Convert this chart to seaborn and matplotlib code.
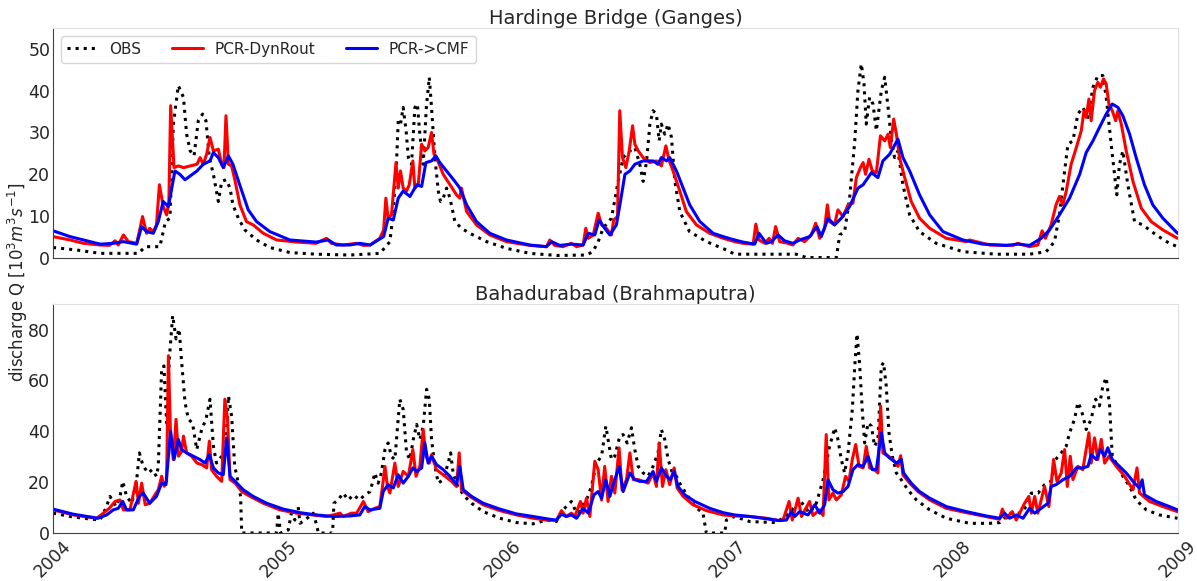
import numpy as np
import pandas as pd
import matplotlib
matplotlib.use("Agg")
import matplotlib.pyplot as plt
import matplotlib.dates as mdates
import seaborn as sns

# (decimal year, discharge [10^3 m3/s])

ganges_obs = [
    (2004.00, 2.5), (2004.105, 1.9), (2004.21, 1.1), (2004.38, 1.1), (2004.41, 2.7), (2004.475, 2.7),
    (2004.50, 8.7), (2004.52, 9.5), (2004.535, 32), (2004.557, 41.2), (2004.58, 38.4), (2004.594, 29.6),
    (2004.61, 25.6), (2004.627, 24.4), (2004.646, 32.8), (2004.665, 34.4), (2004.68, 32.8), (2004.695, 24),
    (2004.713, 20), (2004.735, 13.5), (2004.75, 18.3), (2004.77, 18.7), (2004.787, 16.7), (2004.80, 12.7),
    (2004.824, 9.5), (2004.853, 6.7), (2004.905, 4.3), (2004.964, 2.5), (2005.053, 1.3), (2005.17, 0.9),
    (2005.32, 0.7), (2005.453, 1.1), (2005.476, 2.5), (2005.498, 3.9), (2005.513, 11.1), (2005.527, 22.4),
    (2005.535, 32.8), (2005.545, 32), (2005.557, 36), (2005.57, 30.4), (2005.58, 24), (2005.594, 22.4),
    (2005.609, 36), (2005.62, 36.8), (2005.631, 29.6), (2005.646, 22.4), (2005.66, 36), (2005.673, 43.2),
    (2005.683, 36), (2005.698, 24), (2005.713, 16), (2005.723, 13.5), (2005.735, 14.3), (2005.75, 16.7),
    (2005.765, 14.3), (2005.787, 8.7), (2005.816, 7.1), (2005.853, 5.9), (2005.928, 3.9), (2006.016, 2.3),
    (2006.12, 1.1), (2006.24, 0.6), (2006.372, 0.7), (2006.40, 1.5), (2006.424, 3.9), (2006.446, 7.1),
    (2006.483, 9.5), (2006.513, 18.3), (2006.535, 24), (2006.565, 25.6), (2006.587, 26.4), (2006.609, 22.4),
    (2006.624, 18.3), (2006.639, 23), (2006.654, 32), (2006.668, 35.2), (2006.683, 34.4), (2006.695, 28),
    (2006.705, 32), (2006.72, 29.6), (2006.735, 32), (2006.75, 28.8), (2006.765, 18.3), (2006.787, 11.1),
    (2006.83, 6.3), (2006.906, 3.9), (2006.994, 1.9), (2007.031, 0.9), (2007.157, 0.9), (2007.305, 0.9),
    (2007.35, 0.1), (2007.483, 0.1), (2007.498, 5.5), (2007.52, 6.3), (2007.542, 14.3), (2007.565, 28),
    (2007.579, 40), (2007.594, 46.4), (2007.606, 41.6), (2007.616, 32), (2007.631, 38.4), (2007.646, 36.8),
    (2007.661, 30.4), (2007.683, 40), (2007.698, 43.2), (2007.713, 36), (2007.728, 28), (2007.742, 24),
    (2007.757, 25.6), (2007.779, 17.5), (2007.809, 10.3), (2007.853, 6.3), (2007.927, 3.5), (2008.046, 1.5),
    (2008.194, 0.9), (2008.342, 0.9), (2008.416, 1.5), (2008.453, 3.9), (2008.475, 10.3), (2008.498, 20.8),
    (2008.513, 27.2), (2008.535, 28), (2008.557, 34.4), (2008.579, 36), (2008.602, 33.6), (2008.624, 40.8),
    (2008.646, 43.6), (2008.668, 43.6), (2008.683, 38.4), (2008.705, 27.2), (2008.72, 20), (2008.73, 15.1),
    (2008.742, 22.4), (2008.757, 25.6), (2008.779, 17.5), (2008.809, 8.7), (2008.846, 7.9), (2008.905, 5.5),
    (2008.964, 3.5), (2009.0, 2.7),
]

ganges_dynrout = [
    (2004.0, 5.1), (2004.076, 4.3), (2004.135, 3.5), (2004.209, 3.1), (2004.25, 3.0), (2004.276, 4.1),
    (2004.29, 3.1), (2004.313, 5.5), (2004.335, 3.9), (2004.372, 3.5), (2004.387, 7.1), (2004.398, 9.9),
    (2004.416, 5.9), (2004.43, 7.1), (2004.446, 6.3), (2004.46, 7.9), (2004.473, 17.5), (2004.49, 12.3),
    (2004.505, 10.3), (2004.515, 13.3), (2004.523, 36.4), (2004.538, 21.6), (2004.557, 22), (2004.58, 21.6),
    (2004.61, 22), (2004.64, 22.4), (2004.654, 24), (2004.668, 22.4), (2004.683, 24.8), (2004.698, 28.8),
    (2004.713, 25.6), (2004.735, 26), (2004.75, 22.4), (2004.76, 21.6), (2004.769, 34), (2004.78, 22.4),
    (2004.794, 22), (2004.81, 18.3), (2004.831, 12.7), (2004.86, 8.7), (2004.89, 7.9), (2004.935, 5.9),
    (2004.994, 4.3), (2005.083, 3.8), (2005.17, 3.5), (2005.216, 4.7), (2005.238, 3.5), (2005.29, 3.1),
    (2005.35, 3.5), (2005.38, 3.0), (2005.41, 3.1), (2005.453, 4.7), (2005.47, 6.7), (2005.48, 14.3),
    (2005.49, 9.5), (2005.505, 10.3), (2005.525, 22.8), (2005.535, 16.7), (2005.545, 20.8), (2005.557, 16.7),
    (2005.572, 16), (2005.584, 17.5), (2005.6, 23.2), (2005.609, 16.7), (2005.624, 17.5), (2005.639, 27.2),
    (2005.653, 25.6), (2005.668, 26.4), (2005.683, 30), (2005.694, 24.8), (2005.705, 24), (2005.735, 20),
    (2005.765, 17.5), (2005.794, 15.1), (2005.809, 14.3), (2005.816, 16.7), (2005.839, 11.1), (2005.883, 7.9),
    (2005.942, 5.5), (2006.016, 3.9), (2006.12, 3.0), (2006.194, 2.7), (2006.209, 4.3), (2006.231, 3.0),
    (2006.268, 2.7), (2006.305, 3.5), (2006.328, 2.7), (2006.357, 3.1), (2006.369, 7.1), (2006.38, 4.7),
    (2006.402, 5.5), (2006.424, 10.7), (2006.439, 7.9), (2006.46, 7.1), (2006.483, 5.5), (2006.493, 9.1),
    (2006.51, 9.9), (2006.52, 35.2), (2006.532, 24), (2006.547, 21.6), (2006.562, 25.6), (2006.577, 31.6),
    (2006.587, 27.2), (2006.602, 25.6), (2006.624, 24), (2006.654, 22.8), (2006.683, 23.2), (2006.705, 22),
    (2006.725, 26.8), (2006.74, 23.2), (2006.757, 20.8), (2006.787, 16), (2006.816, 11.1), (2006.861, 7.9),
    (2006.92, 5.9), (2006.98, 4.7), (2007.031, 3.9), (2007.068, 3.5), (2007.113, 3.3), (2007.125, 8.1),
    (2007.139, 4.3), (2007.165, 3.5), (2007.184, 4.7), (2007.199, 3.5), (2007.213, 7.5), (2007.231, 3.9),
    (2007.268, 3.5), (2007.29, 3.1), (2007.313, 4.7), (2007.342, 3.9), (2007.372, 5.5), (2007.391, 8.3),
    (2007.409, 4.7), (2007.431, 7.1), (2007.443, 12.7), (2007.453, 8.7), (2007.475, 7.9), (2007.49, 11.5),
    (2007.513, 9.9), (2007.535, 12.7), (2007.557, 13.1), (2007.572, 19.2), (2007.59, 21.6), (2007.602, 22.8),
    (2007.613, 20), (2007.628, 23.6), (2007.643, 20.8), (2007.661, 20.4), (2007.679, 29.2), (2007.698, 28),
    (2007.713, 29.6), (2007.723, 26.4), (2007.738, 33.2), (2007.75, 29.6), (2007.764, 24), (2007.787, 19.2),
    (2007.816, 13.5), (2007.853, 9.5), (2007.898, 7.1), (2007.972, 4.7), (2008.061, 3.9), (2008.075, 4.3),
    (2008.165, 3.1), (2008.268, 3.0), (2008.29, 3.5), (2008.342, 2.7), (2008.379, 3.1), (2008.398, 6.5),
    (2008.413, 4.7), (2008.438, 7.9), (2008.46, 12.7), (2008.475, 14.7), (2008.49, 12.7), (2008.505, 15.9),
    (2008.527, 22.4), (2008.55, 26.4), (2008.572, 30.4), (2008.584, 35.2), (2008.594, 33.6), (2008.606, 38),
    (2008.616, 32.8), (2008.631, 40), (2008.646, 42), (2008.657, 40.8), (2008.671, 42.8), (2008.683, 41.6),
    (2008.695, 36.8), (2008.71, 35.2), (2008.725, 32.8), (2008.735, 35.2), (2008.75, 32), (2008.772, 25.6),
    (2008.802, 18.3), (2008.839, 11.9), (2008.883, 8.7), (2008.935, 6.7), (2009.0, 4.7),
]

ganges_cmf = [
    (2004.0, 6.5), (2004.076, 5.1), (2004.135, 4.3), (2004.21, 3.3), (2004.268, 3.5), (2004.313, 3.9),
    (2004.372, 3.3), (2004.394, 7.5), (2004.416, 6.3), (2004.446, 5.9), (2004.468, 8.7), (2004.49, 13.5),
    (2004.513, 12.3), (2004.542, 20.8), (2004.564, 20), (2004.587, 18.7), (2004.61, 19.6), (2004.64, 20.8),
    (2004.668, 22.4), (2004.698, 23.2), (2004.713, 25.2), (2004.735, 24), (2004.757, 21.6), (2004.78, 24.4),
    (2004.80, 22.4), (2004.83, 17.5), (2004.868, 11.5), (2004.905, 8.7), (2004.964, 6.3), (2005.053, 4.3),
    (2005.17, 3.8), (2005.224, 4.3), (2005.26, 3.1), (2005.32, 3.1), (2005.364, 3.5), (2005.41, 3.1),
    (2005.47, 5.1), (2005.49, 9.5), (2005.513, 9.1), (2005.535, 14.3), (2005.557, 16), (2005.587, 14.7),
    (2005.617, 17.5), (2005.639, 17.1), (2005.658, 22.8), (2005.683, 23.2), (2005.702, 24.4), (2005.72, 22.8),
    (2005.75, 20.8), (2005.787, 18.3), (2005.809, 16.7), (2005.839, 12.7), (2005.883, 8.7), (2005.942, 5.9),
    (2006.016, 4.3), (2006.12, 3.1), (2006.194, 2.7), (2006.217, 3.9), (2006.253, 3.0), (2006.305, 3.3),
    (2006.357, 3.1), (2006.38, 5.9), (2006.409, 5.5), (2006.428, 9.1), (2006.453, 7.1), (2006.476, 5.5),
    (2006.505, 7.9), (2006.523, 13.5), (2006.543, 20), (2006.565, 20.8), (2006.587, 22.4), (2006.624, 23.2),
    (2006.668, 23.2), (2006.69, 22.4), (2006.705, 24), (2006.728, 23.2), (2006.742, 24), (2006.772, 20.8),
    (2006.802, 16.7), (2006.831, 12.7), (2006.876, 8.7), (2006.935, 5.9), (2006.98, 5.1), (2007.031, 4.3),
    (2007.068, 3.8), (2007.12, 3.3), (2007.139, 5.9), (2007.172, 3.5), (2007.194, 3.9), (2007.224, 5.5),
    (2007.253, 4.1), (2007.29, 3.5), (2007.32, 4.3), (2007.364, 5.1), (2007.397, 7.5), (2007.416, 5.1),
    (2007.446, 9.5), (2007.475, 7.9), (2007.505, 9.5), (2007.542, 12.3), (2007.579, 16.7), (2007.602, 17.5),
    (2007.639, 20.4), (2007.668, 19.2), (2007.69, 23.2), (2007.72, 24.8), (2007.757, 28.4), (2007.779, 24),
    (2007.809, 20.8), (2007.853, 15.1), (2007.898, 10.3), (2007.957, 6.3), (2008.046, 4.3), (2008.135, 3.3),
    (2008.238, 3.0), (2008.29, 3.3), (2008.342, 3.0), (2008.394, 4.7), (2008.431, 6.7), (2008.475, 10.3),
    (2008.52, 14.3), (2008.565, 20), (2008.594, 25.2), (2008.624, 28), (2008.653, 31.2), (2008.683, 34.4),
    (2008.71, 36.8), (2008.735, 36), (2008.757, 34), (2008.787, 29.6), (2008.816, 24), (2008.853, 17.5),
    (2008.89, 12.7), (2008.935, 9.5), (2009.0, 5.9),
]

brahma_obs = [
    (2004.0, 7.8), (2004.076, 6.5), (2004.135, 5.8), (2004.209, 5.1), (2004.238, 10.4), (2004.253, 14.4),
    (2004.28, 10.4), (2004.298, 14.4), (2004.31, 20.3), (2004.327, 14.4), (2004.35, 11.7), (2004.369, 18.3),
    (2004.384, 31.5), (2004.401, 26.2), (2004.424, 23.6), (2004.44, 24.9), (2004.46, 22.3), (2004.468, 26.2),
    (2004.483, 64.4), (2004.493, 65.7), (2004.505, 43.3), (2004.517, 68.4), (2004.532, 85.5), (2004.547, 76.3),
    (2004.561, 80.2), (2004.572, 67), (2004.587, 51.3), (2004.602, 44.7), (2004.62, 43.3), (2004.639, 32.8),
    (2004.661, 40.7), (2004.68, 44.7), (2004.698, 52.6), (2004.713, 34.1), (2004.727, 27.5), (2004.75, 30.2),
    (2004.769, 35.4), (2004.78, 53.9), (2004.794, 46), (2004.808, 26.2), (2004.824, 19.6), (2004.834, 14.4),
    (2004.839, 0), (2004.994, 0), (2005.001, 7.8), (2005.012, 0), (2005.046, 1.2), (2005.06, 7.8),
    (2005.075, 5.1), (2005.09, 10.4), (2005.098, 3.8), (2005.12, 5.1), (2005.157, 7.8), (2005.17, 3.8),
    (2005.18, 0), (2005.243, 0), (2005.249, 11.7), (2005.268, 13), (2005.29, 15.7), (2005.313, 13),
    (2005.335, 15), (2005.364, 13), (2005.386, 15), (2005.41, 16.3), (2005.431, 23.6), (2005.446, 19.6),
    (2005.46, 23.6), (2005.476, 32.8), (2005.49, 35.4), (2005.505, 30), (2005.52, 28.9), (2005.542, 52.6),
    (2005.557, 48.6), (2005.572, 31.5), (2005.587, 28.9), (2005.602, 36.8), (2005.617, 42.7), (2005.631, 36.8),
    (2005.646, 42), (2005.661, 56.5), (2005.673, 52.6), (2005.683, 36.8), (2005.698, 26.2), (2005.713, 19.6),
    (2005.735, 21), (2005.757, 27.5), (2005.768, 31.5), (2005.779, 23.6), (2005.8, 18.3), (2005.83, 14.4),
    (2005.861, 11.7), (2005.913, 8.4), (2005.987, 5.8), (2006.061, 4.1), (2006.135, 3.6), (2006.194, 5.1),
    (2006.238, 4.5), (2006.268, 9.1), (2006.305, 12.4), (2006.328, 7.8), (2006.35, 10.4), (2006.372, 13),
    (2006.394, 18.3), (2006.416, 27.5), (2006.439, 30.2), (2006.458, 42), (2006.468, 36.8), (2006.483, 28.9),
    (2006.498, 30.2), (2006.52, 38.1), (2006.535, 38.7), (2006.553, 35.4), (2006.572, 41.4), (2006.587, 32.8),
    (2006.602, 26.2), (2006.624, 23.6), (2006.646, 22.3), (2006.668, 26.2), (2006.69, 31.5), (2006.705, 40.7),
    (2006.72, 36.8), (2006.735, 28.9), (2006.754, 23.6), (2006.772, 22.3), (2006.794, 18.3), (2006.824, 14.4),
    (2006.854, 10.4), (2006.89, 7.8), (2006.905, 0), (2006.987, 0), (2006.994, 5.1), (2007.031, 6.5),
    (2007.098, 4.5), (2007.216, 4.1), (2007.276, 7.8), (2007.32, 13), (2007.342, 10.4), (2007.364, 7.8),
    (2007.394, 11.7), (2007.424, 20.9), (2007.453, 34.1), (2007.476, 41.4), (2007.49, 36.8), (2007.505, 28.9),
    (2007.52, 23.6), (2007.535, 31.5), (2007.554, 48.6), (2007.565, 65.7), (2007.575, 78.3), (2007.587, 65.7),
    (2007.598, 48.6), (2007.609, 35.4), (2007.624, 43.3), (2007.639, 42), (2007.653, 34.1), (2007.668, 36.8),
    (2007.683, 65.7), (2007.693, 67), (2007.705, 57.8), (2007.717, 39.4), (2007.732, 30.2), (2007.75, 23.6),
    (2007.772, 20.9), (2007.801, 17), (2007.839, 13), (2007.898, 9.1), (2007.972, 5.8), (2008.076, 3.8),
    (2008.165, 3.8), (2008.209, 4.1), (2008.253, 7.8), (2008.298, 7.8), (2008.328, 10.4), (2008.35, 15.7),
    (2008.38, 15.7), (2008.409, 19), (2008.438, 20.3), (2008.458, 28.9), (2008.483, 31.5), (2008.505, 34.1),
    (2008.52, 39.4), (2008.542, 44.7), (2008.557, 51.3), (2008.572, 48.6), (2008.594, 40.7), (2008.616, 44.7),
    (2008.636, 52.6), (2008.653, 50), (2008.668, 57.8), (2008.683, 61.1), (2008.698, 50), (2008.71, 30.2),
    (2008.735, 26.2), (2008.757, 22.3), (2008.787, 18.3), (2008.816, 13), (2008.861, 9.1), (2008.92, 7.1),
    (2009.0, 5.8),
]

brahma_dynrout = [
    (2004.0, 9.1), (2004.09, 7.1), (2004.194, 5.8), (2004.224, 7.8), (2004.25, 9.7), (2004.276, 12.4),
    (2004.298, 13), (2004.313, 9.1), (2004.342, 9.1), (2004.369, 20.3), (2004.38, 11.7), (2004.394, 19.6),
    (2004.41, 11.1), (2004.43, 11.7), (2004.453, 15), (2004.468, 17), (2004.483, 22.3), (2004.494, 18.4),
    (2004.505, 20.3), (2004.513, 69.7), (2004.523, 36.8), (2004.535, 28.9), (2004.547, 44.7), (2004.558, 30.2),
    (2004.572, 32.1), (2004.58, 38.1), (2004.594, 31.5), (2004.616, 30.2), (2004.64, 27.5), (2004.661, 26.9),
    (2004.683, 25.6), (2004.695, 36.1), (2004.705, 24.9), (2004.727, 22.3), (2004.75, 20.3), (2004.764, 52.6),
    (2004.776, 44.7), (2004.787, 21), (2004.81, 19.6), (2004.839, 16.3), (2004.876, 14.4), (2004.935, 11.7),
    (2005.009, 9.1), (2005.083, 7.8), (2005.157, 7.1), (2005.216, 6.5), (2005.246, 7.1), (2005.276, 7.8),
    (2005.29, 6.5), (2005.327, 7.8), (2005.35, 7.8), (2005.38, 12.4), (2005.401, 8.4), (2005.431, 9.7),
    (2005.453, 10.4), (2005.465, 18.3), (2005.476, 26.2), (2005.487, 18.3), (2005.498, 15.7), (2005.52, 27.5),
    (2005.535, 18.3), (2005.557, 24.2), (2005.58, 22.3), (2005.6, 32.8), (2005.614, 22.3), (2005.631, 26.2),
    (2005.646, 40.7), (2005.658, 30.2), (2005.673, 27.5), (2005.683, 30.8), (2005.705, 24.9), (2005.735, 22.9),
    (2005.772, 20.3), (2005.794, 18.3), (2005.806, 31.5), (2005.816, 17), (2005.853, 14.4), (2005.913, 11.1),
    (2005.987, 8.8), (2006.061, 7.1), (2006.135, 5.8), (2006.194, 5.1), (2006.238, 4.9), (2006.261, 8.8),
    (2006.28, 6.5), (2006.305, 7.8), (2006.32, 6.5), (2006.345, 12.4), (2006.357, 7.8), (2006.372, 13.7),
    (2006.387, 6.5), (2006.409, 28.2), (2006.424, 24.9), (2006.439, 13), (2006.453, 26.2), (2006.468, 12.4),
    (2006.483, 22.3), (2006.498, 15.7), (2006.517, 33.5), (2006.53, 17), (2006.55, 21), (2006.565, 31.5),
    (2006.58, 21), (2006.602, 21), (2006.624, 20.3), (2006.646, 19.6), (2006.668, 23.6), (2006.683, 18.3),
    (2006.695, 35.4), (2006.71, 18.3), (2006.725, 24.9), (2006.742, 19), (2006.762, 25.6), (2006.775, 17.7),
    (2006.802, 14.4), (2006.846, 11.1), (2006.905, 8.8), (2006.98, 7.1), (2007.031, 6.7), (2007.098, 6.5),
    (2007.172, 5.8), (2007.224, 4.9), (2007.246, 5.1), (2007.273, 12.4), (2007.287, 5.1), (2007.313, 13.7),
    (2007.328, 6.5), (2007.364, 12.4), (2007.379, 6.9), (2007.409, 9.1), (2007.424, 6.9), (2007.438, 38.7),
    (2007.45, 13), (2007.468, 15.7), (2007.483, 13), (2007.505, 15), (2007.524, 22.3), (2007.539, 20.3),
    (2007.554, 28.9), (2007.569, 34.8), (2007.584, 26.2), (2007.602, 25.6), (2007.616, 34.1), (2007.631, 25.6),
    (2007.653, 24.9), (2007.668, 23.6), (2007.68, 49.9), (2007.69, 31.5), (2007.713, 30.2), (2007.735, 28.9),
    (2007.757, 26.2), (2007.769, 30.4), (2007.779, 22.9), (2007.809, 19.6), (2007.846, 16.3), (2007.898, 13),
    (2007.972, 9.7), (2008.061, 8), (2008.135, 6.7), (2008.209, 5.4), (2008.221, 9.4), (2008.239, 5.8),
    (2008.265, 8.4), (2008.283, 5.1), (2008.32, 11.7), (2008.339, 14.4), (2008.35, 7.8), (2008.365, 14.4),
    (2008.379, 7.8), (2008.409, 18.3), (2008.428, 10.4), (2008.449, 28.9), (2008.464, 20.3), (2008.483, 23.6),
    (2008.498, 32.8), (2008.51, 18.3), (2008.523, 30.2), (2008.535, 21), (2008.557, 26.2), (2008.579, 24.9),
    (2008.606, 39.4), (2008.616, 27.5), (2008.631, 37.4), (2008.646, 28.9), (2008.661, 36.8), (2008.676, 27.5),
    (2008.695, 30.2), (2008.728, 26.2), (2008.765, 22.3), (2008.802, 17), (2008.82, 25.6), (2008.831, 15.7),
    (2008.876, 12.4), (2008.935, 10.4), (2009.0, 8.4),
]

brahma_cmf = [
    (2004.0, 9.4), (2004.09, 7.4), (2004.2, 5.8), (2004.238, 7.1), (2004.268, 9.1), (2004.29, 9.7),
    (2004.31, 12.4), (2004.327, 9.1), (2004.357, 9.1), (2004.384, 14.4), (2004.401, 15.7), (2004.43, 11.7),
    (2004.46, 14.4), (2004.483, 19.6), (2004.502, 19), (2004.523, 40), (2004.538, 28.9), (2004.557, 36.8),
    (2004.572, 32.8), (2004.594, 31.5), (2004.624, 30.2), (2004.653, 28.9), (2004.676, 27.5), (2004.695, 30.8),
    (2004.713, 25.6), (2004.735, 23.6), (2004.757, 22.9), (2004.772, 37.4), (2004.787, 22.3), (2004.81, 20.3),
    (2004.846, 17), (2004.89, 14.4), (2004.95, 11.7), (2005.024, 9.4), (2005.098, 8), (2005.172, 7.1),
    (2005.246, 6.5), (2005.32, 6.7), (2005.364, 7.1), (2005.386, 10.4), (2005.41, 9.1), (2005.453, 9.7),
    (2005.468, 16.3), (2005.49, 19), (2005.513, 17.7), (2005.535, 22.9), (2005.557, 19.6), (2005.58, 22.3),
    (2005.6, 25.6), (2005.617, 24.2), (2005.639, 25.6), (2005.653, 35.4), (2005.668, 27.5), (2005.683, 30.2),
    (2005.705, 26.9), (2005.735, 24.9), (2005.765, 22.3), (2005.794, 19), (2005.809, 26.2), (2005.824, 17),
    (2005.861, 14.4), (2005.913, 11.7), (2005.987, 9.4), (2006.061, 7.5), (2006.135, 6.5), (2006.209, 5.4),
    (2006.238, 5.1), (2006.261, 7.4), (2006.283, 6.5), (2006.305, 7.1), (2006.328, 5.8), (2006.357, 9.7),
    (2006.38, 7.8), (2006.405, 15), (2006.424, 16.3), (2006.439, 13.7), (2006.458, 20.9), (2006.476, 14.4),
    (2006.493, 19.6), (2006.517, 26.2), (2006.535, 16.3), (2006.565, 23.6), (2006.587, 21), (2006.609, 20.3),
    (2006.639, 20.3), (2006.668, 24.2), (2006.683, 20.3), (2006.705, 25.6), (2006.728, 22.3), (2006.745, 21),
    (2006.762, 24.2), (2006.779, 18.3), (2006.809, 15), (2006.854, 12.4), (2006.92, 9.7), (2006.98, 8),
    (2007.031, 7.1), (2007.098, 6.5), (2007.187, 5.4), (2007.231, 4.9), (2007.261, 5.1), (2007.283, 8.4),
    (2007.298, 6.5), (2007.32, 8.4), (2007.357, 7.1), (2007.387, 11.1), (2007.409, 7.8), (2007.431, 11.1),
    (2007.446, 20.9), (2007.468, 17), (2007.49, 15.7), (2007.513, 16.3), (2007.535, 18.3), (2007.557, 24.9),
    (2007.579, 26.9), (2007.602, 26.2), (2007.624, 30.2), (2007.643, 24.9), (2007.661, 24.9), (2007.683, 39.4),
    (2007.698, 31.5), (2007.72, 29.5), (2007.75, 27.5), (2007.772, 28.9), (2007.782, 23.6), (2007.816, 19.6),
    (2007.853, 16.3), (2007.898, 13.7), (2007.972, 10.4), (2008.061, 8.4), (2008.15, 6.7), (2008.209, 5.8),
    (2008.231, 7.8), (2008.253, 5.8), (2008.283, 7.1), (2008.313, 5.8), (2008.342, 9.7), (2008.365, 7.8),
    (2008.394, 9.7), (2008.424, 11.7), (2008.438, 18.3), (2008.46, 19), (2008.49, 20.9), (2008.52, 22.3),
    (2008.55, 25.6), (2008.579, 25.6), (2008.602, 26.2), (2008.616, 30.8), (2008.639, 28.9), (2008.657, 32.8),
    (2008.676, 30.2), (2008.69, 33.5), (2008.71, 28.9), (2008.742, 26.2), (2008.772, 23.6), (2008.809, 19.6),
    (2008.831, 17.7), (2008.843, 20.9), (2008.853, 15), (2008.905, 12.4), (2008.964, 10.4), (2009.0, 9.1),
]

labels = ["OBS", "PCR-DynRout", "PCR->CMF"]
colors = ["black", "red", "blue"]
linestyles = [":", "-", "-"]


def to_frame(pairs):
    t, q = np.array(pairs).T
    dates = pd.Timestamp("2004-01-01") + pd.to_timedelta((t - 2004) * 365.25, unit="D")
    return pd.DataFrame({"date": dates, "Q": q})


sns.set_style("white")
plt.rcParams["font.family"] = ["DejaVu Sans"]

fig = plt.figure(figsize=(11.97, 5.81), dpi=100)
ax1 = fig.add_axes([0.0443, 0.556, 0.9398, 0.396])
ax2 = fig.add_axes([0.0443, 0.0826, 0.9398, 0.394], sharex=ax1)

panels = [
    (ax1, "Hardinge Bridge (Ganges)", [ganges_obs, ganges_dynrout, ganges_cmf], 55, range(0, 51, 10)),
    (ax2, "Bahadurabad (Brahmaputra)", [brahma_obs, brahma_dynrout, brahma_cmf], 90, range(0, 81, 20)),
]

for ax, title, series, ymax, yticks in panels:
    for pairs, label, color, ls in zip(series, labels, colors, linestyles):
        df = to_frame(pairs)
        sns.lineplot(data=df, x="date", y="Q", color=color, linestyle=ls, lw=2.2,
                     label=label if ax is ax1 else None, legend=False, ax=ax)
    ax.set_title(title, fontsize=14, pad=3)
    ax.set_ylim(0, ymax)
    ax.set_yticks(list(yticks))
    ax.set_xlabel("")
    ax.set_ylabel("")
    ax.tick_params(axis="y", labelsize=12.5, length=0, pad=2)
    for side in ["top", "right"]:
        ax.spines[side].set_color("0.88")
    for side in ["left", "bottom"]:
        ax.spines[side].set_color("0.25")

ax2.set_xlim(pd.Timestamp("2004-01-01"), pd.Timestamp("2009-01-01"))
ax2.xaxis.set_major_locator(mdates.YearLocator())
ax2.xaxis.set_major_formatter(mdates.DateFormatter("%Y"))
ax2.tick_params(axis="x", labelsize=12.5, labelrotation=45, length=0, pad=3)
plt.setp(ax1.get_xticklabels(), visible=False)

ax1.legend(loc="upper left", ncol=3, fontsize=11, frameon=True)

fig.text(0.005, 0.515, "discharge Q [$10^3m^3s^{-1}$]", rotation=90,
         va="center", ha="left", fontsize=12)

fig.savefig("out.png", dpi=100)
